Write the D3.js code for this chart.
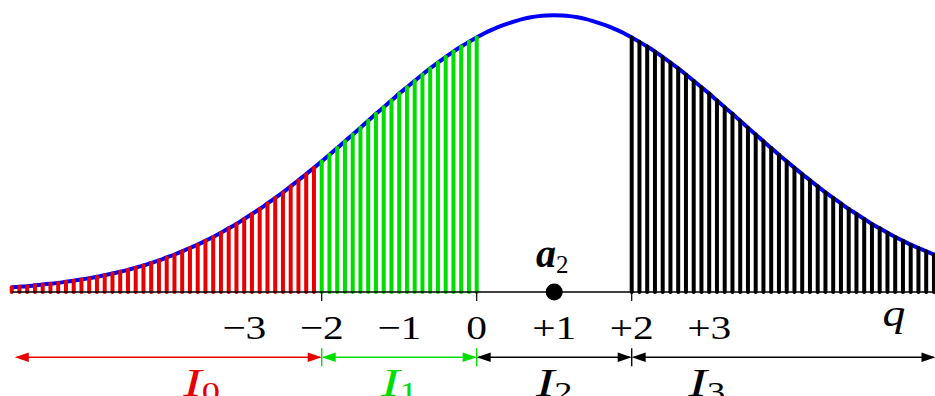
<!DOCTYPE html>
<html>
<head>
<meta charset="utf-8">
<script src="https://cdn.jsdelivr.net/npm/d3@7"></script>
<style>
  html, body { margin: 0; padding: 0; background: #fff; }
  svg { display: block; }
</style>
</head>
<body>
<svg id="chart" width="935" height="396"></svg>
<script>
// Sample grid: q from -6.0 to 6.0 in steps of 0.1
const gridStart = -6.0;
const gridStep = 0.1;

// Relative density at each grid point (peak = 1 at q = +1)
const density = [
  0.017, 0.019, 0.021, 0.024, 0.027, 0.030, 0.033, 0.037, 0.041, 0.045,
  0.050, 0.055, 0.061, 0.067, 0.073, 0.080, 0.088, 0.096, 0.105, 0.114,
  0.125, 0.135, 0.147, 0.159, 0.171, 0.185, 0.199, 0.214, 0.230, 0.246,
  0.264, 0.282, 0.300, 0.320, 0.340, 0.360, 0.382, 0.404, 0.426, 0.449,
  0.472, 0.496, 0.520, 0.545, 0.569, 0.594, 0.619, 0.644, 0.668, 0.692,
  0.717, 0.740, 0.763, 0.786, 0.808, 0.829, 0.849, 0.869, 0.887, 0.904,
  0.920, 0.935, 0.948, 0.960, 0.970, 0.979, 0.987, 0.993, 0.997, 0.999,
  1.000, 0.999, 0.997, 0.993, 0.987, 0.979, 0.970, 0.960, 0.948, 0.935,
  0.920, 0.904, 0.887, 0.869, 0.849, 0.829, 0.808, 0.786, 0.763, 0.740,
  0.717, 0.692, 0.668, 0.644, 0.619, 0.594, 0.569, 0.545, 0.520, 0.496,
  0.472, 0.449, 0.426, 0.404, 0.382, 0.360, 0.340, 0.320, 0.300, 0.282,
  0.264, 0.246, 0.230, 0.214, 0.199, 0.185, 0.171, 0.159, 0.147, 0.135,
  0.125
];

// Axis tick labels
const tickValues = [-3, -2, -1, 0, 1, 2, 3];
const tickLabels = ["\u22123", "\u22122", "\u22121", "0", "+1", "+2", "+3"];

// Interval boundaries and interval names
const boundaries = [-2, 0, 2];
const intervalEnds = [-5.96, -2, 0, 2, 5.92];
const intervalSubs = ["0", "1", "2", "3"];

// Reconstruction point
const pointValue = 1;
const pointLabel = "a";
const pointSub = "2";

// ---------------------------------------------------------------
const RED = "#e60000", GREEN = "#00dd00", BLACK = "#000", BLUE = "#0000f4";
const regionColors = [RED, GREEN, null, BLACK];
const intervalColors = [RED, GREEN, BLACK, BLACK];
const intervalLabelAt = [-3.55, -1.0, 1.0, 2.97];
const SERIF = '"Liberation Serif", "Times New Roman", Tinos, serif';

const svg = d3.select("#chart");
const x = d3.scaleLinear().domain([0, 2]).range([476.7, 631.7]);
const y = d3.scaleLinear().domain([0, 1]).range([292, 15.3]);

const pts = density.map((v, i) => ({ q: +(gridStart + i * gridStep).toFixed(1), v }));

function region(q) {
  const e = 1e-6;
  if (q < boundaries[0] - e) return 0;
  if (q <= boundaries[1] + e) return 1;
  if (q < boundaries[2] - e) return 2;
  return 3;
}

// density curve
const curve = d3.line().x(d => x(d.q)).y(d => y(d.v)).curve(d3.curveCatmullRom);
svg.append("path")
  .datum(pts)
  .attr("fill", "none")
  .attr("stroke", BLUE)
  .attr("stroke-width", 4)
  .attr("d", curve);

// stems
svg.append("g")
  .selectAll("line")
  .data(pts.filter(d => regionColors[region(d.q)]))
  .join("line")
  .attr("x1", d => x(d.q)).attr("x2", d => x(d.q))
  .attr("y1", y(0)).attr("y2", d => y(d.v))
  .attr("stroke", d => regionColors[region(d.q)])
  .attr("stroke-width", 4)
  .attr("stroke-linecap", "round");

// baseline
svg.append("line")
  .attr("x1", x(gridStart)).attr("x2", 935)
  .attr("y1", y(0)).attr("y2", y(0))
  .attr("stroke", BLACK).attr("stroke-width", 1.4);

// boundary ticks on the axis
svg.append("g").selectAll("line")
  .data(boundaries).join("line")
  .attr("x1", d => x(d)).attr("x2", d => x(d))
  .attr("y1", y(0)).attr("y2", y(0) + 9)
  .attr("stroke", BLACK).attr("stroke-width", 1.2);

// reconstruction point
svg.append("circle")
  .attr("cx", x(pointValue)).attr("cy", y(0)).attr("r", 8.5)
  .attr("fill", BLACK);

// tick labels
svg.append("g").selectAll("g")
  .data(tickValues).join("g")
  .attr("transform", d => `translate(${x(d)},338.5) scale(1.22,1)`)
  .append("text")
  .attr("text-anchor", "middle")
  .style("font-family", SERIF)
  .attr("font-size", 34)
  .attr("fill", BLACK)
  .text((d, i) => tickLabels[i]);

// axis variable
svg.append("g")
  .attr("transform", "translate(894,326) scale(1.2,1)")
  .append("text")
  .attr("text-anchor", "middle")
  .style("font-family", SERIF)
  .attr("font-style", "italic")
  .attr("font-size", 38)
  .text("q");

// point label
const pl = svg.append("g")
  .attr("transform", `translate(${x(pointValue) - 2},267)`)
  .append("text")
  .attr("text-anchor", "middle")
  .style("font-family", SERIF)
  .attr("fill", BLACK);
pl.append("tspan").attr("font-size", 40).attr("font-weight", "bold").attr("font-style", "italic").text(pointLabel);
pl.append("tspan").attr("font-size", 25).attr("dy", 6).text(pointSub);

// interval arrows
const arrowY = 357.3, headLen = 14, headHalf = 4.8;
const ig = svg.append("g");
intervalSubs.forEach((s, i) => {
  const x0 = x(intervalEnds[i]), x1 = x(intervalEnds[i + 1]);
  const c = intervalColors[i];
  ig.append("line")
    .attr("x1", x0 + 2).attr("x2", x1 - 2)
    .attr("y1", arrowY).attr("y2", arrowY)
    .attr("stroke", c).attr("stroke-width", 1.5);
  ig.append("path")
    .attr("d", `M${x0},${arrowY} L${x0 + headLen},${arrowY - headHalf} L${x0 + headLen},${arrowY + headHalf} Z`)
    .attr("fill", c);
  ig.append("path")
    .attr("d", `M${x1},${arrowY} L${x1 - headLen},${arrowY - headHalf} L${x1 - headLen},${arrowY + headHalf} Z`)
    .attr("fill", c);
  const t = ig.append("g")
    .attr("transform", `translate(${x(intervalLabelAt[i])},396) scale(1.35,1)`)
    .append("text")
    .attr("text-anchor", "middle")
    .style("font-family", SERIF)
    .attr("fill", c);
  t.append("tspan").attr("font-size", 41).attr("font-style", "italic").text("I");
  t.append("tspan").attr("font-size", 27).attr("dy", 5).text(s);
});

// boundary bars across the arrows
svg.append("g").selectAll("line")
  .data(boundaries).join("line")
  .attr("x1", d => x(d)).attr("x2", d => x(d))
  .attr("y1", arrowY - 9).attr("y2", arrowY + 9)
  .attr("stroke", (d, i) => i < 2 ? GREEN : BLACK)
  .attr("stroke-width", 1.4);
</script>
</body>
</html>
